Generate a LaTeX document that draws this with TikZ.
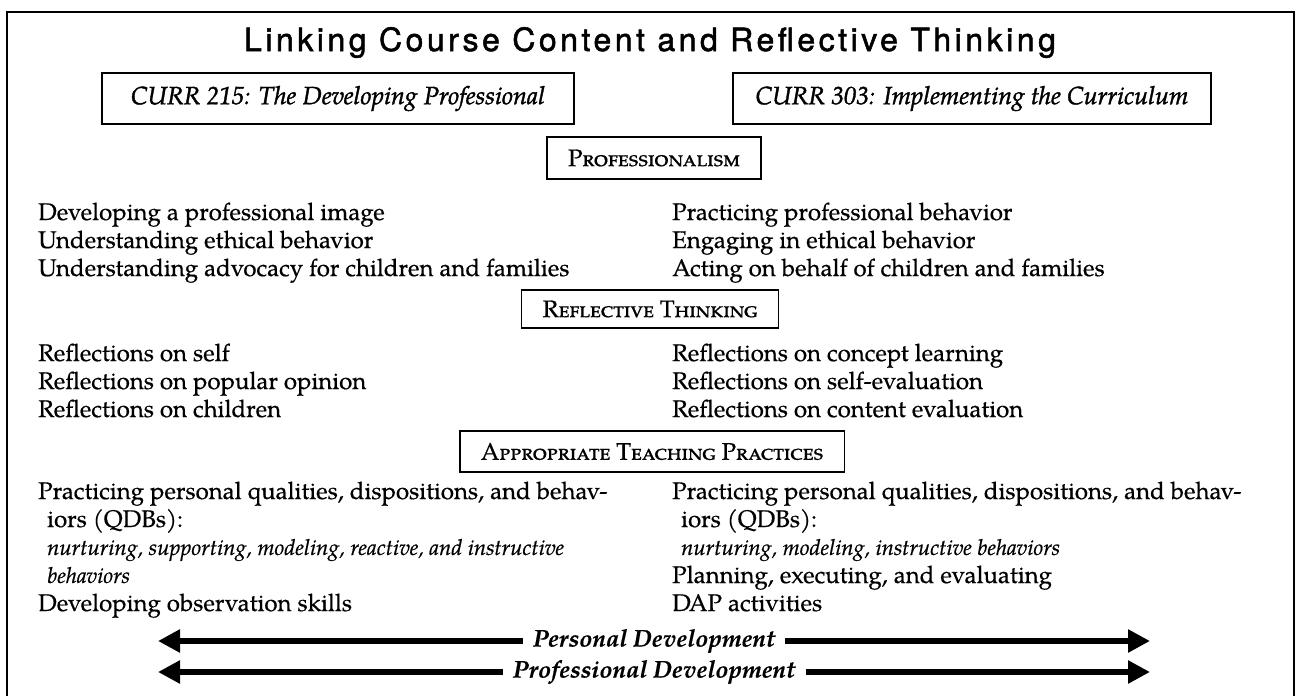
\documentclass[tikz,border=0pt]{standalone}
\usepackage{fontspec}
\setmainfont{TeX Gyre Pagella}[FakeBold=0.5]
\newfontfamily\titlefont{TeX Gyre Heros}[LetterSpace=11,FakeBold=1.6]
\newfontfamily\coursefont{TeX Gyre Pagella}[FakeBold=1.5]
\usetikzlibrary{arrows.meta}

\begin{document}
\begin{tikzpicture}[x=1pt,y=-1pt,
  every node/.style={font=\fontsize{24}{28}\selectfont, inner sep=0pt},
  item/.style={anchor=base west},
  sub/.style={anchor=base west, xshift=9pt},
  subit/.style={anchor=base west, xshift=9pt, font=\fontsize{22}{28}\selectfont\itshape},
  course/.style={draw, line width=1.4pt, minimum height=51pt,
    font=\coursefont\fontsize{25}{28}\selectfont\itshape},
  topic/.style={draw, line width=1.4pt, inner xsep=21pt,
    font=\fontsize{24}{28}\selectfont\scshape},
  devlabel/.style={font=\fontsize{24}{28}\selectfont\bfseries\itshape, inner xsep=10pt},
  devarrow/.style={line width=6pt, -{Triangle[length=22pt,width=22pt]}}
]
\useasboundingbox (0,0) rectangle (1299,696);

% outer frame, open at the bottom
\draw[line width=2.8pt] (7,696) -- (7,12) -- (1294,12) -- (1294,696);

% title
\node[anchor=base, font=\titlefont\fontsize{32}{38}\selectfont] (title) at (650,51)
  {Linking Course Content and Reflective Thinking};

% course headers
\node[course, minimum width=472pt] (c215) at (338,98.5) {CURR 215: The Developing Professional};
\node[course, minimum width=478pt] (c303) at (972,98.5) {CURR 303: Implementing the Curriculum};

% section: professionalism
\node[topic, minimum height=42pt] (hprof) at (654,158) {Professionalism};
\node[item] (p1) at (38,220) {Developing a professional image};
\node[item] (p2) at (38,248) {Understanding ethical behavior};
\node[item] (p3) at (38,276) {Understanding advocacy for children and families};
\node[item] (q1) at (672,220) {Practicing professional behavior};
\node[item] (q2) at (672,248) {Engaging in ethical behavior};
\node[item] (q3) at (672,276) {Acting on behalf of children and families};

% section: reflective thinking
\node[topic, minimum height=38pt] (hrefl) at (650,309) {Reflective Thinking};
\node[item] (r1) at (38,361) {Reflections on self};
\node[item] (r2) at (38,389) {Reflections on popular opinion};
\node[item] (r3) at (38,417) {Reflections on children};
\node[item] (s1) at (672,361) {Reflections on concept learning};
\node[item] (s2) at (672,389) {Reflections on self-evaluation};
\node[item] (s3) at (672,417) {Reflections on content evaluation};

% section: appropriate teaching practices
\node[topic, minimum height=41pt] (happ) at (652,451.5) {Appropriate Teaching Practices};
\node[item] (a1) at (38,499) {Practicing personal qualities, dispositions, and behav-};
\node[sub]  (a2) at (38,527) {iors (QDBs):};
\node[subit] (a3) at (38,555) {nurturing, supporting, modeling, reactive, and instructive};
\node[subit] (a4) at (38,583) {behaviors};
\node[item] (a5) at (38,611) {Developing observation skills};
\node[item] (b1) at (672,499) {Practicing personal qualities, dispositions, and behav-};
\node[sub]  (b2) at (672,527) {iors (QDBs):};
\node[subit] (b3) at (672,555) {nurturing, modeling, instructive behaviors};
\node[item] (b4) at (672,583) {Planning, executing, and evaluating};
\node[item] (b5) at (672,611) {DAP activities};

% development arrows
\node[devlabel] (pers) at (654,641) {Personal Development};
\node[devlabel] (prof) at (654,672) {Professional Development};
\coordinate (persL) at (158,641);
\coordinate (persR) at (1150,641);
\coordinate (profL) at (158,672);
\coordinate (profR) at (1150,672);
\draw[devarrow] (pers.west) -- (persL);
\draw[devarrow] (pers.east) -- (persR);
\draw[devarrow] (prof.west) -- (profL);
\draw[devarrow] (prof.east) -- (profR);
\end{tikzpicture}
\end{document}
